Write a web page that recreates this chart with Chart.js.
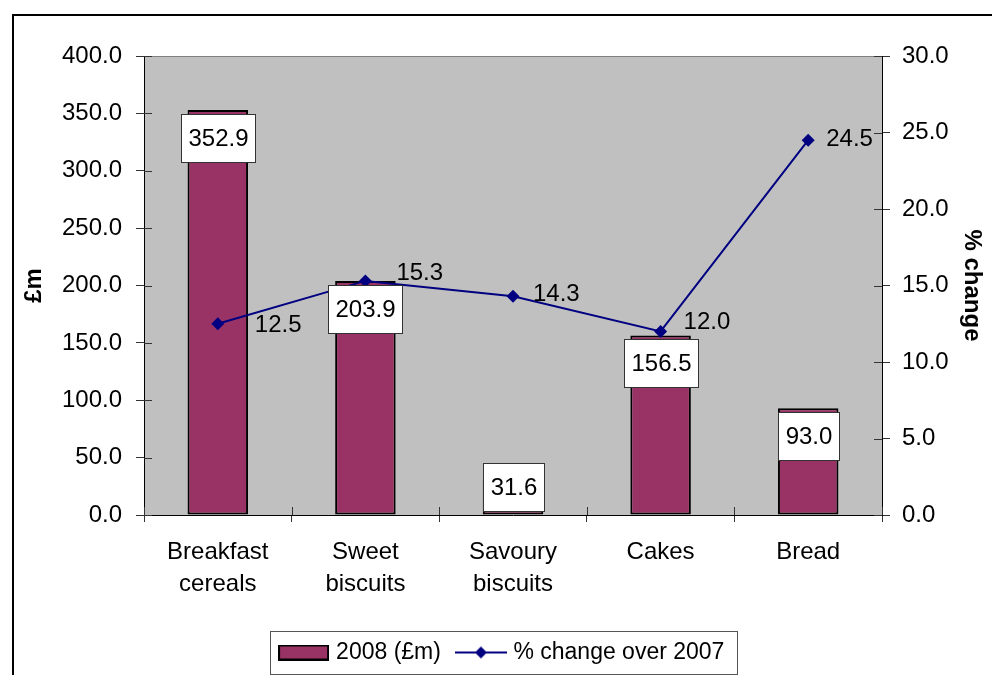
<!DOCTYPE html>
<html>
<head>
<meta charset="utf-8">
<title>2008 sales and % change</title>
<script src="https://cdn.jsdelivr.net/npm/chart.js@4.4.1/dist/chart.umd.min.js"></script>
<style>
  html, body { margin: 0; padding: 0; background: #fff; }
  canvas { display: block; }
</style>
</head>
<body>
<canvas id="salesChart" width="992" height="675"></canvas>
<script>
const categories = [['Breakfast', 'cereals'], ['Sweet', 'biscuits'], ['Savoury', 'biscuits'], 'Cakes', 'Bread'];
const sales2008 = [352.9, 203.9, 31.6, 156.5, 93.0];
const pctChange = [12.5, 15.3, 14.3, 12.0, 24.5];
const salesAxis = { min: 0, max: 400, step: 50 };
const pctAxis = { min: 0, max: 30, step: 5 };

// nudges for the % labels, as they sit in the original
const pctLabelShift = [[37, 2], [31, -8], [20, -2], [23, -9], [18, -1]];

const FONT = '"Liberation Sans", Arial, sans-serif';
const MAROON = '#993366';
const NAVY = '#000080';

function swatch(w, h, draw) {
    const c = document.createElement('canvas');
    c.width = w;
    c.height = h;
    draw(c.getContext('2d'));
    return c;
}
const barSwatch = swatch(51, 16, (g) => {
    g.fillStyle = MAROON;
    g.fillRect(1, 1, 49, 14);
    g.strokeStyle = '#000';
    g.lineWidth = 2;
    g.strokeRect(1, 1, 49, 14);
});
const lineSwatch = swatch(52, 16, (g) => {
    g.strokeStyle = NAVY;
    g.lineWidth = 2;
    g.beginPath();
    g.moveTo(0, 8);
    g.lineTo(52, 8);
    g.stroke();
    g.fillStyle = NAVY;
    g.beginPath();
    g.moveTo(26, 2); g.lineTo(32, 8); g.lineTo(26, 14); g.lineTo(20, 8);
    g.closePath();
    g.fill();
});

const framePlugin = {
    id: 'frame',
    beforeDraw(chart) {
        const { ctx, chartArea: a } = chart;
        ctx.save();
        ctx.fillStyle = '#c0c0c0';
        ctx.fillRect(a.left, a.top, a.right - a.left, a.bottom - a.top);
        ctx.strokeStyle = '#808080';
        ctx.lineWidth = 1;
        ctx.beginPath();
        ctx.moveTo(a.left, a.top + 0.5);
        ctx.lineTo(a.right, a.top + 0.5);
        ctx.stroke();
        ctx.restore();
    },
    beforeDatasetsDraw(chart) {
        // the tick marks cross the axis lines, draw the inner half
        const { ctx, chartArea: a, scales } = chart;
        ctx.save();
        ctx.strokeStyle = '#333';
        ctx.lineWidth = 1;
        ctx.beginPath();
        scales.y.ticks.forEach((t) => {
            const p = Math.round(scales.y.getPixelForValue(t.value)) + 0.5;
            ctx.moveTo(a.left, p); ctx.lineTo(a.left + 8, p);
        });
        scales.y1.ticks.forEach((t) => {
            const p = Math.round(scales.y1.getPixelForValue(t.value)) + 0.5;
            ctx.moveTo(a.right - 8, p); ctx.lineTo(a.right, p);
        });
        for (let i = 0; i <= categories.length; i++) {
            const p = Math.round(scales.x.getPixelForValue(i - 0.5)) + 0.5;
            ctx.moveTo(p, a.bottom - 8); ctx.lineTo(p, a.bottom);
        }
        ctx.stroke();
        ctx.restore();
    },
    afterDatasetsDraw(chart) {
        const { ctx } = chart;
        ctx.save();
        ctx.font = '24px ' + FONT;
        ctx.textBaseline = 'middle';

        // boxed labels on the bars
        chart.getDatasetMeta(0).data.forEach((bar, i) => {
            const txt = sales2008[i].toFixed(1);
            const w = Math.round(ctx.measureText(txt).width) + 14;
            const h = 48;
            const top = Math.round(Math.min(bar.y + 4, bar.base - 4 - h));
            const left = Math.round(bar.x - w / 2);
            ctx.fillStyle = '#fff';
            ctx.fillRect(left, top, w, h);
            ctx.strokeStyle = '#333';
            ctx.lineWidth = 1;
            ctx.strokeRect(left + 0.5, top + 0.5, w, h);
            ctx.fillStyle = '#000';
            ctx.textAlign = 'center';
            ctx.fillText(txt, left + w / 2 + 0.5, top + h / 2 + 1);
        });

        // labels beside the line points
        ctx.textAlign = 'left';
        ctx.fillStyle = '#000';
        chart.getDatasetMeta(1).data.forEach((pt, i) => {
            const [dx, dy] = pctLabelShift[i];
            ctx.fillText(pctChange[i].toFixed(1), pt.x + dx, pt.y + dy);
        });
        ctx.restore();
    },
    afterDraw(chart) {
        const { ctx, legend } = chart;
        ctx.save();
        const hb = legend.legendHitBoxes;
        if (hb && hb.length) {
            const first = hb[0];
            const last = hb[hb.length - 1];
            const cy = first.top + 11.5;
            const l = Math.round(first.left - 12.5) + 0.5;
            const r = Math.round(last.left + last.width + 13) + 0.5;
            ctx.strokeStyle = '#555';
            ctx.lineWidth = 1;
            ctx.strokeRect(l, Math.round(cy - 22) + 0.5, r - l, 43);
        }
        ctx.strokeStyle = '#000';
        ctx.lineWidth = 2;
        ctx.strokeRect(13, 15, 1000, 700);
        ctx.restore();
    }
};

const ctx = document.getElementById('salesChart').getContext('2d');
const salesChart = new Chart(ctx, {
    type: 'bar',
    data: {
        labels: categories,
        datasets: [{
            label: '2008 (£m)',
            data: sales2008,
            backgroundColor: MAROON,
            borderColor: '#000',
            borderWidth: 2,
            borderSkipped: false,
            barPercentage: 0.41,
            categoryPercentage: 1,
            yAxisID: 'y',
            order: 1
        }, {
            type: 'line',
            label: '% change over 2007',
            data: pctChange,
            borderColor: NAVY,
            borderWidth: 2,
            backgroundColor: NAVY,
            pointStyle: 'rectRot',
            pointRadius: 6.5,
            pointBorderWidth: 0,
            pointBackgroundColor: NAVY,
            tension: 0,
            fill: false,
            yAxisID: 'y1',
            order: 0
        }]
    },
    options: {
        responsive: false,
        devicePixelRatio: 1,
        animation: false,
        layout: { padding: { left: 15, right: 0, top: 56, bottom: 1 } },
        plugins: {
            tooltip: { enabled: false },
            legend: {
                position: 'bottom',
                labels: {
                    usePointStyle: true,
                    pointStyleWidth: 42,
                    padding: 19,
                    color: '#000',
                    font: { family: FONT, size: 23 },
                    generateLabels: (chart) => chart.data.datasets.map((ds, i) => ({
                        text: ds.label,
                        pointStyle: i === 0 ? barSwatch : lineSwatch,
                        datasetIndex: i,
                        hidden: false,
                        fontColor: '#000',
                        fillStyle: 'transparent',
                        strokeStyle: 'transparent',
                        lineWidth: 0
                    }))
                }
            }
        },
        scales: {
            x: {
                offset: true,
                grid: { offset: true, drawOnChartArea: false, drawTicks: true, tickLength: 7, color: '#333' },
                border: { color: '#000', width: 1 },
                ticks: {
                    color: '#000',
                    font: { family: FONT, size: 24, lineHeight: 1.32 },
                    padding: 15,
                    maxRotation: 0,
                    autoSkip: false
                },
                afterFit: (s) => { s.height = 107; }
            },
            y: {
                position: 'left',
                min: salesAxis.min,
                max: salesAxis.max,
                grid: { drawOnChartArea: false, tickLength: 8, color: '#333' },
                border: { color: '#000', width: 1 },
                ticks: {
                    stepSize: salesAxis.step,
                    color: '#000',
                    padding: 14,
                    font: { family: FONT, size: 24 },
                    callback: (v) => Number(v).toFixed(1)
                },
                title: {
                    display: true,
                    text: '£m',
                    color: '#000',
                    padding: { top: 5, bottom: 0 },
                    font: { family: FONT, size: 24, weight: 'bold', lineHeight: 1.2 }
                },
                afterFit: (s) => { s.width = 129; }
            },
            y1: {
                position: 'right',
                min: pctAxis.min,
                max: pctAxis.max,
                grid: { drawOnChartArea: false, tickLength: 8, color: '#333' },
                border: { color: '#000', width: 1 },
                ticks: {
                    stepSize: pctAxis.step,
                    color: '#000',
                    padding: 12,
                    font: { family: FONT, size: 24 },
                    callback: (v) => Number(v).toFixed(1)
                },
                title: {
                    display: true,
                    text: '% change',
                    color: '#000',
                    padding: { top: 6, bottom: 0 },
                    font: { family: FONT, size: 24, weight: 'bold', lineHeight: 1.2 }
                },
                afterFit: (s) => { s.width = 110; }
            }
        }
    },
    plugins: [framePlugin]
});
</script>
</body>
</html>
